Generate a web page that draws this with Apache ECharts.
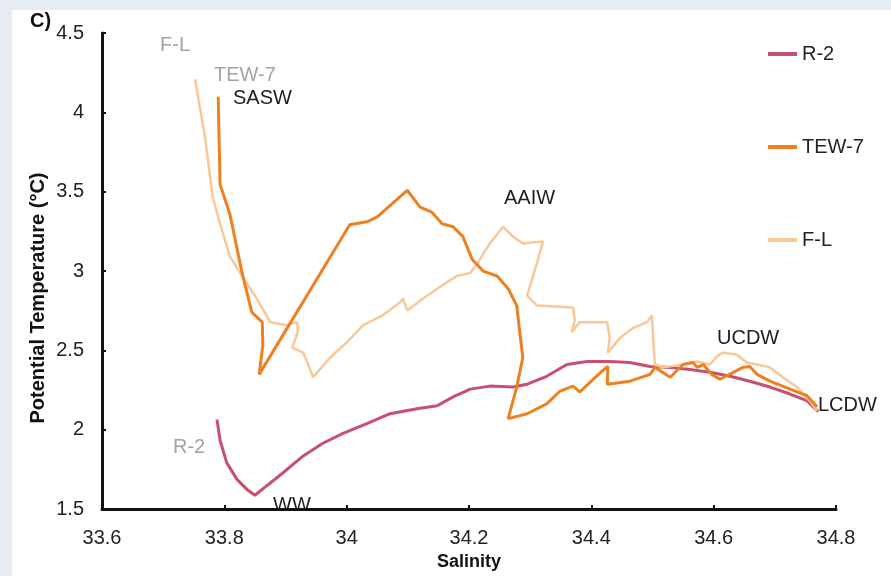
<!DOCTYPE html>
<html>
<head>
<meta charset="utf-8">
<title>Potential temperature vs salinity</title>
<script src="https://cdn.jsdelivr.net/npm/echarts@6/dist/echarts.min.js"></script>
<style>
  html, body { margin: 0; padding: 0; background: #fff; }
  #main { width: 891px; height: 576px; }
</style>
</head>
<body>
<div id="main"></div>
<script>
// values (salinity, potential temperature)
var r2Sal = [33.788, 33.793, 33.804, 33.821, 33.837, 33.850, 33.870, 33.896, 33.929, 33.961,
  33.994, 34.033, 34.071, 34.115, 34.148, 34.174, 34.202, 34.234, 34.272, 34.295,
  34.327, 34.360, 34.393, 34.430, 34.463, 34.496, 34.529, 34.561, 34.594, 34.627,
  34.659, 34.692, 34.725, 34.753, 34.771];
var r2Temp = [2.064, 1.934, 1.791, 1.686, 1.624, 1.587, 1.649, 1.729, 1.835, 1.915,
  1.977, 2.039, 2.101, 2.132, 2.151, 2.207, 2.256, 2.275, 2.269, 2.287,
  2.337, 2.411, 2.430, 2.430, 2.424, 2.399, 2.393, 2.380, 2.362, 2.337,
  2.306, 2.269, 2.225, 2.182, 2.114];

var tewSal = [33.790, 33.793, 33.809, 33.829, 33.845, 33.862, 33.863, 33.857, 34.005, 34.033,
  34.050, 34.099, 34.120, 34.139, 34.156, 34.174, 34.190, 34.205, 34.223, 34.246,
  34.264, 34.278, 34.283, 34.288, 34.278, 34.264, 34.295, 34.327, 34.349, 34.370,
  34.381, 34.417, 34.427, 34.426, 34.463, 34.496, 34.504, 34.529, 34.550, 34.566,
  34.573, 34.583, 34.597, 34.610, 34.632, 34.648, 34.659, 34.671, 34.692, 34.725,
  34.753, 34.769];
var tewTemp = [4.098, 3.546, 3.360, 2.988, 2.740, 2.678, 2.535, 2.349, 3.292, 3.310,
  3.341, 3.509, 3.403, 3.372, 3.298, 3.279, 3.217, 3.075, 3.000, 2.969,
  2.889, 2.783, 2.616, 2.455, 2.269, 2.070, 2.101, 2.163, 2.244, 2.275,
  2.238, 2.368, 2.399, 2.287, 2.306, 2.349, 2.393, 2.331, 2.411, 2.424,
  2.393, 2.411, 2.349, 2.318, 2.362, 2.393, 2.399, 2.349, 2.306, 2.256,
  2.213, 2.145];

var flSal = [33.752, 33.768, 33.781, 33.793, 33.809, 33.829, 33.850, 33.866, 33.875, 33.902,
  33.919, 33.920, 33.911, 33.929, 33.935, 33.945, 33.973, 34.001, 34.027, 34.059,
  34.087, 34.092, 34.099, 34.125, 34.148, 34.180, 34.202, 34.213, 34.234, 34.256,
  34.272, 34.288, 34.321, 34.313, 34.295, 34.311, 34.370, 34.373, 34.368, 34.381,
  34.426, 34.430, 34.427, 34.447, 34.468, 34.491, 34.499, 34.501, 34.504, 34.517,
  34.550, 34.573, 34.594, 34.605, 34.615, 34.638, 34.654, 34.671, 34.692, 34.713,
  34.736, 34.757, 34.769];
var flTemp = [4.209, 3.856, 3.465, 3.298, 3.093, 2.969, 2.845, 2.740, 2.678, 2.659,
  2.678, 2.616, 2.517, 2.486, 2.430, 2.331, 2.455, 2.554, 2.659, 2.721,
  2.802, 2.827, 2.752, 2.827, 2.889, 2.969, 2.988, 3.044, 3.174, 3.279,
  3.217, 3.174, 3.187, 3.075, 2.845, 2.783, 2.771, 2.690, 2.616, 2.678,
  2.678, 2.579, 2.486, 2.579, 2.641, 2.678, 2.721, 2.579, 2.411, 2.393,
  2.411, 2.430, 2.411, 2.461, 2.486, 2.473, 2.424, 2.411, 2.393, 2.331,
  2.269, 2.182, 2.120];

var seriesNames = ['R-2', 'TEW-7', 'F-L'];

function pairs(sal, temp) {
  var out = [];
  for (var i = 0; i < sal.length; i++) {
    out.push([sal[i], temp[i]]);
  }
  return out;
}

var font = '"Liberation Sans", Arial, sans-serif';

function note(txt, x, y, color) {
  return {
    type: 'text',
    x: x,
    y: y,
    style: {
      text: txt,
      fill: color,
      font: '20px ' + font,
      verticalAlign: 'middle'
    }
  };
}

var chart = echarts.init(document.getElementById('main'));

option = {
  backgroundColor: '#ffffff',
  animation: false,
  grid: {
    left: 102,
    right: 55,
    top: 33,
    bottom: 59
  },
  legend: {
    orient: 'vertical',
    left: 763,
    top: 39,
    icon: 'rect',
    itemWidth: 29,
    itemHeight: 4,
    itemGap: 73,
    data: seriesNames,
    textStyle: { fontFamily: font, fontSize: 20, color: '#222' }
  },
  xAxis: {
    type: 'value',
    min: 33.6,
    max: 34.8,
    interval: 0.2,
    name: 'Salinity',
    nameLocation: 'middle',
    nameGap: 42,
    nameTextStyle: { fontFamily: font, fontSize: 18, fontWeight: 'bold', color: '#111' },
    axisLine: { lineStyle: { color: '#111', width: 3 } },
    axisTick: { inside: true, length: 4, lineStyle: { color: '#111', width: 2 } },
    axisLabel: { fontFamily: font, fontSize: 20, color: '#222', margin: 19 },
    splitLine: { show: false }
  },
  yAxis: {
    type: 'value',
    min: 1.5,
    max: 4.5,
    interval: 0.5,
    axisLine: { show: true, lineStyle: { color: '#111', width: 3 } },
    axisTick: { show: true, inside: true, length: 4, lineStyle: { color: '#111', width: 2 } },
    axisLabel: { fontFamily: font, fontSize: 20, color: '#222', margin: 18 },
    splitLine: { show: false }
  },
  series: [{
    name: 'R-2',
    type: 'line',
    symbol: 'none',
    data: pairs(r2Sal, r2Temp),
    lineStyle: { color: '#c8506e', width: 3 },
    itemStyle: { color: '#c8506e' },
    z: 2
  }, {
    name: 'F-L',
    type: 'line',
    symbol: 'none',
    data: pairs(flSal, flTemp),
    lineStyle: { color: '#fbc796', width: 2.5 },
    itemStyle: { color: '#fbc796' },
    z: 3
  }, {
    name: 'TEW-7',
    type: 'line',
    symbol: 'none',
    data: pairs(tewSal, tewTemp),
    lineStyle: { color: '#ee8020', width: 3 },
    itemStyle: { color: '#ee8020' },
    z: 4
  }],
  graphic: [
    { type: 'rect', shape: { x: 0, y: 0, width: 891, height: 10 }, style: { fill: '#e7ebf2' }, z: -10 },
    { type: 'rect', shape: { x: 0, y: 0, width: 12, height: 576 }, style: { fill: '#e7ebf2' }, z: -10 },
    {
      type: 'text', x: 30, y: 21,
      style: { text: 'C)', fill: '#111', font: 'bold 20px ' + font, verticalAlign: 'middle' }
    },
    {
      type: 'text', x: 38, y: 298, rotation: Math.PI / 2,
      style: {
        text: 'Potential Temperature (°C)', fill: '#111',
        font: 'bold 20px ' + font, align: 'center', verticalAlign: 'middle'
      }
    },
    note('F-L', 160, 45, '#a3a3a3'),
    note('TEW-7', 214, 75, '#a3a3a3'),
    note('SASW', 233, 98, '#1e1e1e'),
    note('AAIW', 504, 198, '#1e1e1e'),
    note('UCDW', 717, 338, '#1e1e1e'),
    note('LCDW', 818, 405, '#1e1e1e'),
    note('R-2', 173, 447, '#a3a3a3'),
    note('WW', 273, 505, '#1e1e1e')
  ]
};

chart.setOption(option);

window.onresize = function() {
  chart.resize();
};
</script>
</body>
</html>
